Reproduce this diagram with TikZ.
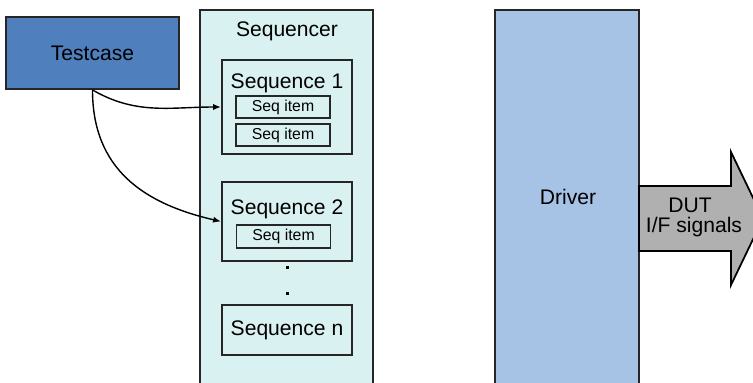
\documentclass[tikz,border=0pt]{standalone}
\usepackage{fontspec}
\setmainfont{Liberation Sans}
\usepackage{xcolor}
\definecolor{testblue}{HTML}{4F7FBC}
\definecolor{seqcyan}{HTML}{DAF1F1}
\definecolor{drvblue}{HTML}{A6C2E5}
\definecolor{sigray}{HTML}{B0B0B0}
\usetikzlibrary{arrows.meta}

\begin{document}
\begin{tikzpicture}[x=0.02cm, y=-0.02cm,
    box/.style={draw=black!85, line width=1.1pt, inner sep=0pt,
      font=\fontsize{12}{14}\selectfont},
    itembox/.style={box, minimum width=1.88cm, minimum height=0.45cm,
      font=\fontsize{9}{11}\selectfont},
    txt/.style={anchor=base, inner sep=0pt, font=\fontsize{12}{14}\selectfont},
    dot/.style={fill=black, inner sep=0pt, minimum size=0.06cm},
    link/.style={line width=0.8pt, -{Latex[length=4.5pt,width=3.5pt]}}]
  \useasboundingbox (0,0) rectangle (753,382);
  \clip (0,0) rectangle (753,382);

  % Testcase
  \node[box, fill=testblue, minimum width=3.46cm, minimum height=1.44cm]
    (testcase) at (92.5,53) {Testcase};

  % Sequencer with its sequences
  \node[box, fill=seqcyan, minimum width=3.46cm, minimum height=7.8cm]
    (sequencer) at (286.5,205) {};
  \node[txt] (seqrTxt) at (287,36) {Sequencer};

  \node[box, minimum width=2.6cm, minimum height=1.88cm] (seqA) at (287,107) {};
  \node[txt] (seqATxt) at (287,88) {Sequence 1};
  \node[itembox] (itemA) at (283,107) {Seq item};
  \node[itembox] (itemB) at (283,135) {Seq item};

  \node[box, minimum width=2.6cm, minimum height=1.58cm] (seqB) at (287,221.5) {};
  \node[txt] (seqBTxt) at (287,214) {Sequence 2};
  \node[itembox] (itemC) at (283.5,236.5) {Seq item};

  \node[dot] (dotA) at (287,267) {};
  \node[dot] (dotB) at (287,293) {};

  \node[box, minimum width=2.6cm, minimum height=1.0cm] (seqN) at (287,330) {Sequence n};

  % Driver and DUT signals
  \node[box, fill=drvblue, minimum width=2.88cm, minimum height=7.8cm]
    (driver) at (567,205) {};
  \node[txt] (drvTxt) at (568,204) {Driver};

  \draw[fill=sigray, line width=1pt]
    (639,186) -- (731,186) -- (731,152) -- (763,218.5) -- (731,285)
    -- (731,251) -- (639,251) -- cycle;
  \node[txt] (dutTxt) at (690,212) {DUT};
  \node[txt] (sigTxt) at (694,232) {I/F signals};

  % Testcase starts the sequences
  \draw[link] (testcase.south) to[out=-30, in=180] (seqA.west);
  \draw[link] (testcase.south) to[out=-90, in=167, looseness=1.1] (seqB.west);
\end{tikzpicture}
\end{document}
